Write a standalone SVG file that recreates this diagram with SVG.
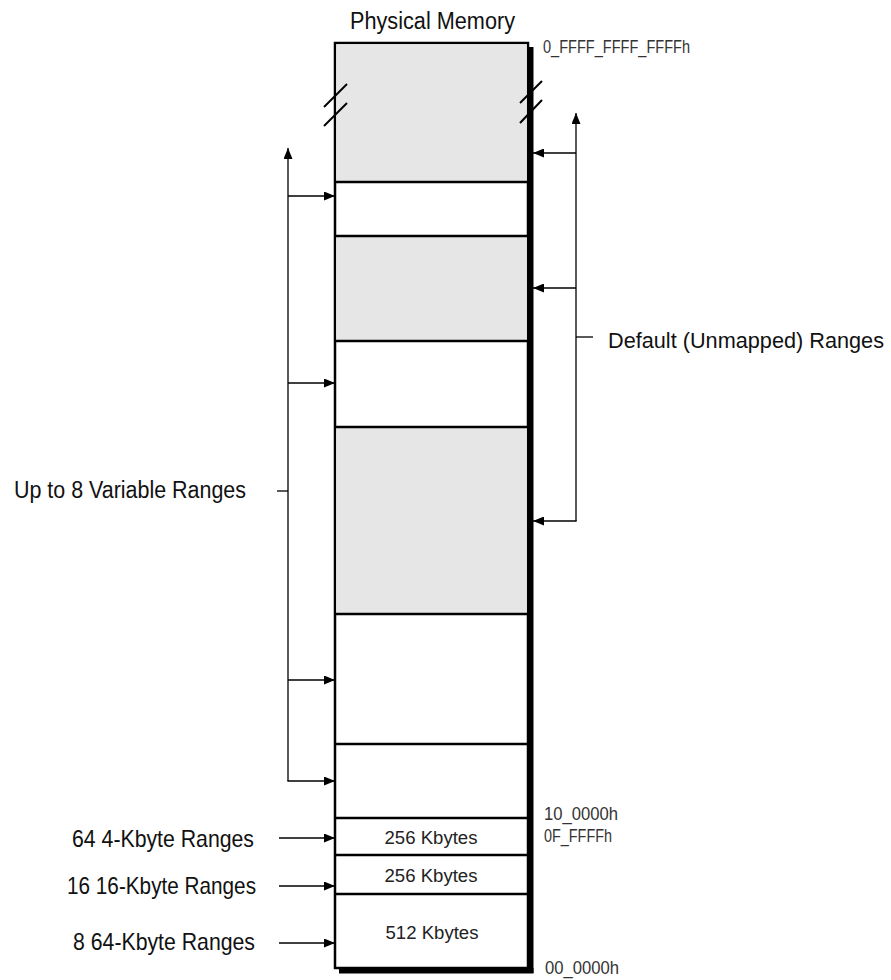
<svg xmlns="http://www.w3.org/2000/svg" width="891" height="980" viewBox="0 0 891 980">
<defs>
<marker id="ah" markerWidth="11" markerHeight="9" refX="11" refY="4.5" orient="auto" markerUnits="userSpaceOnUse">
<path d="M0,0 L11,4.5 L0,9 Z" fill="#000"/>
</marker>
<style>
text{font-family:"Liberation Sans",Arial,sans-serif}
.lbl{font-size:23px;fill:#111}
.dft{font-size:22px;fill:#111}
.big{font-size:24px;fill:#111}
.addr{font-size:18px;fill:#333}
.sz{font-size:18px;fill:#222}
.con{stroke:#000;stroke-width:1.3;fill:none}
.div{stroke:#000;stroke-width:2.5}
.gray{fill:#e6e6e6}
</style>
</defs>
<rect width="891" height="980" fill="#fff"/>

<g id="memory">
<rect x="528" y="47" width="5.5" height="926" fill="#000"/>
<rect x="339" y="968" width="194.5" height="5.5" fill="#000"/>
<rect x="335" y="43" width="193" height="925" fill="#fff" stroke="#000" stroke-width="2.5"/>
<rect class="gray" x="336.2" y="44.2" width="190.6" height="137.8"/>
<rect class="gray" x="336.2" y="236" width="190.6" height="105"/>
<rect class="gray" x="336.2" y="427" width="190.6" height="187"/>
<line class="div" x1="335" y1="182" x2="528" y2="182"/>
<line class="div" x1="335" y1="236" x2="528" y2="236"/>
<line class="div" x1="335" y1="341" x2="528" y2="341"/>
<line class="div" x1="335" y1="427" x2="528" y2="427"/>
<line class="div" x1="335" y1="614" x2="528" y2="614"/>
<line class="div" x1="335" y1="744" x2="528" y2="744"/>
<line class="div" x1="335" y1="818" x2="528" y2="818"/>
<line class="div" x1="335" y1="855" x2="528" y2="855"/>
<line class="div" x1="335" y1="894" x2="528" y2="894"/>
<g stroke="#000" stroke-width="2">
<line x1="347" y1="84" x2="324" y2="107"/>
<line x1="347" y1="103" x2="324" y2="126"/>
<line x1="542" y1="81" x2="520" y2="103"/>
<line x1="542" y1="100" x2="520" y2="123"/>
</g>
<text class="sz" x="431" y="844" text-anchor="middle" textLength="93" lengthAdjust="spacingAndGlyphs">256 Kbytes</text>
<text class="sz" x="431" y="882" text-anchor="middle" textLength="93" lengthAdjust="spacingAndGlyphs">256 Kbytes</text>
<text class="sz" x="432" y="939" text-anchor="middle" textLength="93" lengthAdjust="spacingAndGlyphs">512 Kbytes</text>
</g>

<g id="title"><text class="lbl" x="350" y="29" textLength="165" lengthAdjust="spacingAndGlyphs">Physical Memory</text></g>
<g id="addresses">
<text class="addr" x="543" y="53" textLength="147" lengthAdjust="spacingAndGlyphs">0_FFFF_FFFF_FFFFh</text>
<text class="addr" x="544" y="820" textLength="74" lengthAdjust="spacingAndGlyphs">10_0000h</text>
<text class="addr" x="544" y="842" textLength="68" lengthAdjust="spacingAndGlyphs">0F_FFFFh</text>
<text class="addr" x="545" y="974" textLength="74" lengthAdjust="spacingAndGlyphs">00_0000h</text>
</g>

<g id="variable-ranges">
<text class="lbl" x="14" y="498" textLength="232" lengthAdjust="spacingAndGlyphs">Up to 8 Variable Ranges</text>
</g>
<g id="default-ranges">
<text class="dft" x="608" y="348" textLength="276" lengthAdjust="spacingAndGlyphs">Default (Unmapped) Ranges</text>
</g>
<g id="fixed-ranges">
<text class="big" x="254" y="847" text-anchor="end" textLength="182" lengthAdjust="spacingAndGlyphs">64 4-Kbyte Ranges</text>
<text class="big" x="256" y="894" text-anchor="end" textLength="189" lengthAdjust="spacingAndGlyphs">16 16-Kbyte Ranges</text>
<text class="big" x="255" y="950" text-anchor="end" textLength="182" lengthAdjust="spacingAndGlyphs">8 64-Kbyte Ranges</text>
</g>

<g id="connectors">
<line class="con" x1="288" y1="781" x2="288" y2="148" marker-end="url(#ah)"/>
<line class="con" x1="288" y1="196" x2="335" y2="196" marker-end="url(#ah)"/>
<line class="con" x1="288" y1="383" x2="335" y2="383" marker-end="url(#ah)"/>
<line class="con" x1="288" y1="680" x2="335" y2="680" marker-end="url(#ah)"/>
<line class="con" x1="287.4" y1="781" x2="335" y2="781" marker-end="url(#ah)"/>
<line class="con" x1="277" y1="491" x2="288" y2="491"/>
<line class="con" x1="576" y1="521" x2="576" y2="113" marker-end="url(#ah)"/>
<line class="con" x1="576" y1="153" x2="533" y2="153" marker-end="url(#ah)"/>
<line class="con" x1="576" y1="288" x2="533" y2="288" marker-end="url(#ah)"/>
<line class="con" x1="576.6" y1="521" x2="533" y2="521" marker-end="url(#ah)"/>
<line class="con" x1="576" y1="337" x2="593" y2="337"/>
<line class="con" x1="279" y1="838" x2="335" y2="838" marker-end="url(#ah)"/>
<line class="con" x1="279" y1="886" x2="335" y2="886" marker-end="url(#ah)"/>
<line class="con" x1="279" y1="943" x2="335" y2="943" marker-end="url(#ah)"/>
</g>
</svg>
